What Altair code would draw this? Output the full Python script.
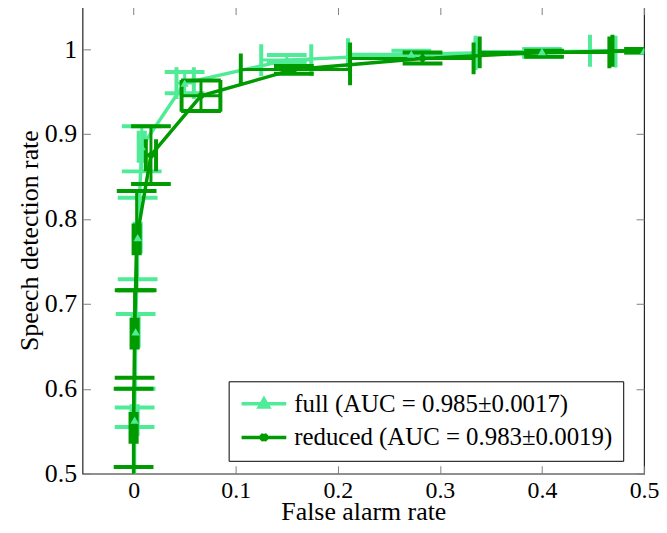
import altair as alt
import pandas as pd

FONT = "Liberation Serif"

SERIES = ["full", "reduced"]
LABELS = ["full (AUC = 0.985±0.0017)", "reduced (AUC = 0.983±0.0019)"]
COLORS = ["#50EB96", "#009B00"]

X_TICKS = [0, 0.1, 0.2, 0.3, 0.4, 0.5]
Y_TICKS = [0.5, 0.6, 0.7, 0.8, 0.9, 1.0]

# full (light green, triangles)
full_x = [0.001, 0.002, 0.004, 0.008, 0.050, 0.150, 0.272, 0.400, 0.500]
full_y = [0.563, 0.667, 0.778, 0.885, 0.960, 0.987, 0.994, 0.997, 0.998]
full_xlo = [-0.002, -0.001, 0.001, 0.005, 0.042, 0.125, 0.210, 0.335, 0.447]
full_xhi = [0.004, 0.005, 0.007, 0.011, 0.059, 0.174, 0.335, 0.472, 0.553]
full_ylo = [0.555, 0.600, 0.729, 0.856, 0.948, 0.984, 0.992, 0.991, 0.996]
full_yhi = [0.578, 0.688, 0.825, 0.909, 0.973, 0.993, 0.998, 1.000, 1.000]

# reduced (dark green)
red_x = [0.000, 0.001, 0.003, 0.017, 0.066, 0.157, 0.283, 0.402, 0.500]
red_y = [0.554, 0.665, 0.776, 0.875, 0.945, 0.976, 0.989, 0.996, 0.998]
red_xlo = [-0.003, -0.002, 0.000, 0.012, 0.047, 0.105, 0.212, 0.339, 0.469]
red_xhi = [0.003, 0.004, 0.006, 0.022, 0.085, 0.212, 0.333, 0.466, 0.531]
red_ylo = [0.508, 0.613, 0.716, 0.841, 0.927, 0.971, 0.983, 0.991, 0.996]
red_yhi = [0.600, 0.716, 0.833, 0.909, 0.963, 0.980, 0.996, 0.998, 1.000]

# ROC end points
curve_start = [0.0, 0.0]
curve_end = [1.0, 1.0]

series_data = {
    "full": (full_x, full_y, full_xlo, full_xhi, full_ylo, full_yhi),
    "reduced": (red_x, red_y, red_xlo, red_xhi, red_ylo, red_yhi),
}

pts, lines, hcaps, vcaps = {}, {}, {}, {}
for s, lab in zip(SERIES, LABELS):
    xs, ys, xl, xh, yl, yh = series_data[s]
    pts[s] = pd.DataFrame({"x": xs, "y": ys, "xlo": xl, "xhi": xh, "ylo": yl, "yhi": yh})
    lx = [curve_start[0]] + xs + [curve_end[0]]
    ly = [curve_start[1]] + ys + [curve_end[1]]
    lines[s] = pd.DataFrame({"x": lx, "y": ly, "i": list(range(len(lx)))})
    hcaps[s] = pd.DataFrame({"cx": xs + xs, "cy": yl + yh})
    vcaps[s] = pd.DataFrame({"cx": xl + xh, "cy": ys + ys})

XS = alt.Scale(domain=[-0.05, 0.5], nice=False, zero=False)
YS = alt.Scale(domain=[0.5, 1.05], nice=False, zero=False)

shape_full = "M-3.6,0H3.6M-0.75,0.55L0,-0.75L0.75,0.55Z"
shape_red = "M-3.6,0H3.6M-0.5,-0.5L0.5,0.5M-0.5,0.5L0.5,-0.5M0,-0.6V0.6"

CS = alt.Scale(domain=LABELS, range=COLORS)
SS = alt.Scale(domain=LABELS, range=[shape_full, shape_red])

LEG = alt.Legend(
    title=None, orient="none", legendX=147, legendY=377, direction="vertical",
    strokeColor="black", fillColor="white", padding=10, cornerRadius=0,
    labelFont=FONT, labelFontSize=25, labelColor="black", labelLimit=500,
    symbolSize=156, symbolStrokeWidth=3.5, symbolOffset=13, labelOffset=18,
    rowPadding=8, symbolOpacity=1,
)


def ex(field):
    return alt.X(f"{field}:Q", scale=XS, axis=None)


def ey(field):
    return alt.Y(f"{field}:Q", scale=YS, axis=None)


def error_layers(s, color):
    d = alt.Chart(pts[s])
    xw = d.mark_rule(color=color, strokeWidth=3, clip=True).encode(x=ex("xlo"), x2="xhi:Q", y=ey("y"))
    yw = d.mark_rule(color=color, strokeWidth=3, clip=True).encode(x=ex("x"), y=ey("ylo"), y2="yhi:Q")
    hc = alt.Chart(hcaps[s]).mark_tick(orient="horizontal", size=40, thickness=4, color=color, opacity=1, clip=True).encode(x=ex("cx"), y=ey("cy"))
    vc = alt.Chart(vcaps[s]).mark_tick(orient="vertical", size=32, thickness=4, color=color, opacity=1, clip=True).encode(x=ex("cx"), y=ey("cy"))
    ln = alt.Chart(lines[s]).mark_line(strokeWidth=3.5, color=color, clip=True).encode(
        x=ex("x"), y=ey("y"), order=alt.Order("i:Q"))
    return [xw, yw, hc, vc, ln]


layers = []
layers += error_layers("full", COLORS[0])
layers += error_layers("reduced", COLORS[1])
layers.append(alt.Chart(pts["reduced"]).mark_point(shape="cross", angle=45, filled=True, size=45, color=COLORS[1], opacity=1, clip=True).encode(x=ex("x"), y=ey("y")))
layers.append(alt.Chart(pts["full"]).mark_point(shape="triangle-up", filled=True, size=70, color=COLORS[0], opacity=1, clip=True).encode(x=ex("x"), y=ey("y")))

# legend-only layer: its marks sit outside the visible domain and are clipped
legend_df = pd.DataFrame({"x": [-1.0, -1.0], "y": [0.0, 0.0], "label": LABELS})
legend_layer = alt.Chart(legend_df).mark_point(filled=True, size=156, strokeWidth=3.5, opacity=1, clip=True).encode(
    x=ex("x"), y=ey("y"),
    color=alt.Color("label:N", scale=CS, legend=LEG),
    stroke=alt.Stroke("label:N", scale=CS, legend=LEG),
    shape=alt.Shape("label:N", scale=SS, legend=LEG),
)

dummy = pd.DataFrame({"x": [0.0], "y": [0.5]})

main_axes = alt.Chart(dummy).mark_point(opacity=0).encode(
    x=alt.X("x:Q", scale=XS, axis=alt.Axis(
        orient="bottom", values=X_TICKS, format=".1~f", ticks=False, domain=False, grid=False,
        labelPadding=5, labelFont=FONT, labelFontSize=24, labelColor="black", labelFlush=False,
        title="False alarm rate", titleFont=FONT, titleFontSize=26, titleFontWeight="normal",
        titleColor="black", titlePadding=-4)),
    y=alt.Y("y:Q", scale=YS, axis=alt.Axis(
        orient="left", values=Y_TICKS, format=".1~f", ticks=False, domain=False, grid=False,
        labelPadding=6, labelFont=FONT, labelFontSize=26, labelColor="black", labelFlush=False,
        title="Speech detection rate", titleFont=FONT, titleFontSize=26, titleFontWeight="normal",
        titleColor="black", titlePadding=2)),
)


def tick_axis(orient, vals):
    return alt.Axis(orient=orient, offset=-8, values=vals, tickSize=8, tickColor="#808080",
                    tickWidth=1, labels=False, domain=False, grid=False, title=None)


ticks_bl = alt.Chart(dummy).mark_point(opacity=0).encode(
    x=alt.X("x:Q", scale=XS, axis=tick_axis("bottom", X_TICKS)),
    y=alt.Y("y:Q", scale=YS, axis=tick_axis("left", Y_TICKS)),
)
ticks_tr = alt.Chart(dummy).mark_point(opacity=0).encode(
    x=alt.X("x:Q", scale=XS, axis=tick_axis("top", X_TICKS)),
    y=alt.Y("y:Q", scale=YS, axis=tick_axis("right", Y_TICKS)),
)

chart = alt.layer(main_axes, ticks_bl, ticks_tr, *layers, legend_layer).resolve_axis(
    x="independent", y="independent"
).properties(
    width=565, height=470,
    padding={"left": 8, "top": -4, "right": 0, "bottom": 0},
).configure_view(stroke="#222222", strokeWidth=1.2)

chart.save("out.html", embed_options={"renderer": "svg", "actions": False})
